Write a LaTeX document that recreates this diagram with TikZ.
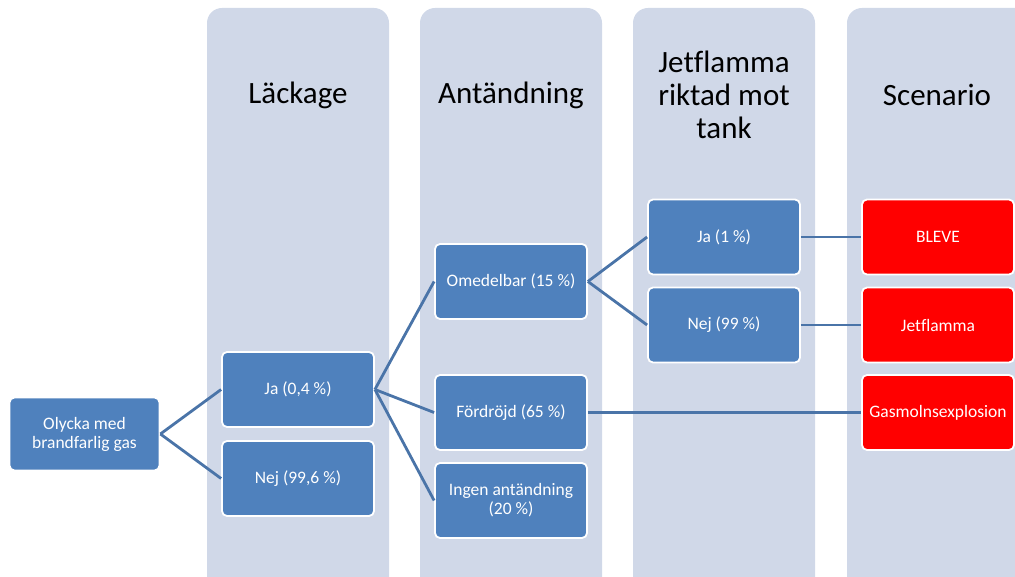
\documentclass[tikz,border=0pt]{standalone}
\usepackage{fontspec}
\setmainfont{Carlito}[Ligatures=CommonOff]
\begin{document}
\begin{tikzpicture}[x=1pt,y=-1pt,
  colbg/.style={fill=colfill,draw=none,rounded corners=15pt},
  hdr/.style={font=\fontsize{31}{33}\selectfont,text=black,align=center},
  bbox/.style={draw=white,line width=1.8pt,fill=boxblue,rounded corners=5pt,minimum width=152pt,minimum height=75pt,text=white,font=\fontsize{17.5}{19}\selectfont,align=center,inner sep=2pt},
  rbox/.style={bbox,fill=red},
  conn/.style={draw=lineblue,line width=2.8pt}]
\definecolor{colfill}{HTML}{D0D8E8}
\definecolor{boxblue}{HTML}{4F81BD}
\definecolor{lineblue}{HTML}{4A74A8}
\useasboundingbox (0,0) rectangle (1015,577);
\clip (0,0) rectangle (1015,577);
% columns
\fill[colbg] (207,8) rectangle (389,600);
\fill[colbg] (420,8) rectangle (602,600);
\fill[colbg] (633,8) rectangle (815,600);
\fill[colbg] (847,8) rectangle (1040,600);
% headers
\node[hdr] (h1) at (298,95) {Läckage};
\node[hdr] (h2) at (511,95) {Antändning};
\node[hdr] (h3) at (724,95) {Jetflamma\\riktad mot\\tank};
\node[hdr] (h4) at (937,95) {Scenario};
% boxes
\node[bbox,minimum width=150pt,minimum height=73pt] (start) at (84.5,434) {Olycka med\\brandfarlig gas};
\node[bbox] (ja) at (298,389.5) {Ja (0,4 \%)};
\node[bbox] (nej) at (298,478.5) {Nej (99,6 \%)};
\node[bbox] (omed) at (511,281.5) {Omedelbar (15 \%)};
\node[bbox] (ford) at (511,412.5) {Fördröjd (65 \%)};
\node[bbox] (ingen) at (511,500.5) {Ingen antändning\\(20 \%)};
\node[bbox] (ja1) at (724,237) {Ja (1 \%)};
\node[bbox] (nej99) at (724,325) {Nej (99 \%)};
\node[rbox] (bleve) at (938,237) {BLEVE};
\node[rbox] (jet) at (938,325) {Jetflamma};
\node[rbox] (gas) at (938,412.5) {Gasmolnsexplosion};
% connectors
\draw[conn] (start.east) -- (ja.west);
\draw[conn] (start.east) -- (nej.west);
\draw[conn] (ja.east) -- (omed.west);
\draw[conn] (ja.east) -- (ford.west);
\draw[conn] (ja.east) -- (ingen.west);
\draw[conn] (omed.east) -- (ja1.west);
\draw[conn] (omed.east) -- (nej99.west);
\draw[conn] (ja1.east) -- (bleve.west);
\draw[conn] (nej99.east) -- (jet.west);
\draw[conn] (ford.east) -- (gas.west);
\end{tikzpicture}
\end{document}
